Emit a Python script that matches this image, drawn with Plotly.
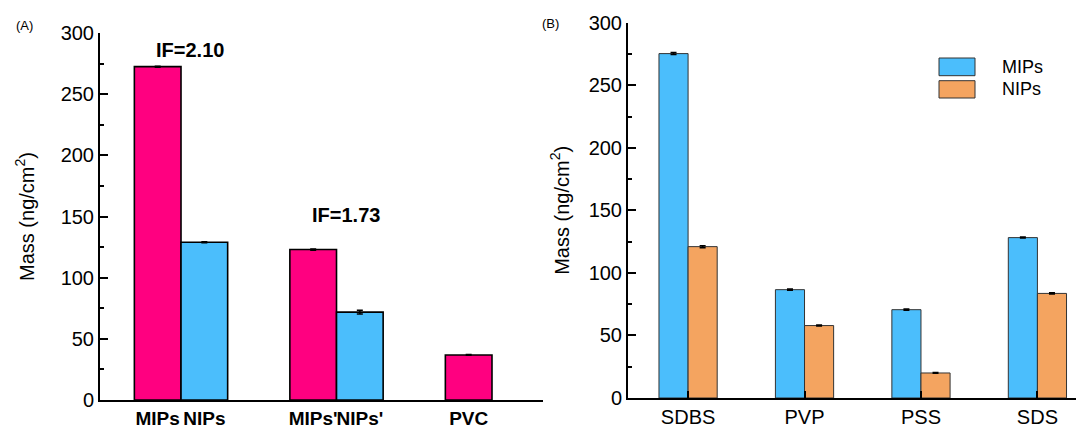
import plotly.graph_objects as go

# ---------- data ----------
a_groups = [1, 2, 3]
a_mips = [272.5, 123.0, 36.8]
a_mips_err = [0.4, 0.5, 0.3]
a_nips = [129.0, 71.8]
a_nips_err = [0.4, 1.5]
a_ticktext = ["MIPs", "NIPs", "MIPs'", "NIPs'", "PVC"]
a_if_text = ["IF=2.10", "IF=1.73"]
a_if_y = [286, 151]

b_cats = ["SDBS", "PVP", "PSS", "SDS"]
b_groups = [1, 2, 3, 4]
b_mips = [275.3, 86.6, 70.6, 128.2]
b_mips_err = [0.8, 0.5, 0.5, 0.4]
b_nips = [121.0, 57.9, 20.0, 83.6]
b_nips_err = [0.8, 0.4, 0.3, 0.5]
legend_names = ["MIPs", "NIPs"]

PINK = "#FF0080"
BLUE = "#4BBEFC"
ORANGE = "#F4A460"
FONT = "Liberation Sans, Arial, sans-serif"

# page body has an 8px margin: the figure is drawn at (8, 8)
OFF = 8
W, H = 1084 - OFF, 426 - OFF
def px(x):
    return (x - OFF) / W
def py(y):
    return (H - (y - OFF)) / H

fig = go.Figure()

aw = 0.3
fig.add_trace(go.Bar(
    x=a_groups, y=a_mips, width=aw, offset=-aw, marker=dict(color=PINK, line=dict(color="black", width=1.6)),
    error_y=dict(type="data", array=a_mips_err, color="black", thickness=1.5, width=3),
    xaxis="x", yaxis="y", showlegend=False))
fig.add_trace(go.Bar(
    x=a_groups[:2], y=a_nips, width=aw, offset=0, marker=dict(color=BLUE, line=dict(color="black", width=1.6)),
    error_y=dict(type="data", array=a_nips_err, color="black", thickness=1.5, width=3),
    xaxis="x", yaxis="y", showlegend=False))

bw = 0.25
fig.add_trace(go.Bar(
    x=b_groups, y=b_mips, width=bw, offset=-bw, name=legend_names[0],
    marker=dict(color=BLUE, line=dict(color="#333333", width=1)),
    error_y=dict(type="data", array=b_mips_err, color="black", thickness=1.5, width=3),
    xaxis="x2", yaxis="y2", showlegend=False))
fig.add_trace(go.Bar(
    x=b_groups, y=b_nips, width=bw, offset=0, name=legend_names[1],
    marker=dict(color=ORANGE, line=dict(color="#333333", width=1)),
    error_y=dict(type="data", array=b_nips_err, color="black", thickness=1.5, width=3),
    xaxis="x2", yaxis="y2", showlegend=False))

# tick positions for A: bar centres
a_tickvals = []
for g in a_groups:
    a_tickvals.append(g - aw / 2)
    if g <= len(a_nips):
        a_tickvals.append(g + aw / 2)

tickfont = dict(family=FONT, size=20, color="black")
def yax(standoff):
    return dict(
        range=[0, 300], dtick=50, showline=True, linecolor="black", linewidth=2,
        ticks="inside", ticklen=8, tickwidth=2, tickcolor="black",
        minor=dict(ticks="inside", ticklen=4, tickwidth=2, tickcolor="black", dtick=25),
        showgrid=False, zeroline=False, tickfont=tickfont, automargin=False,
        title=dict(text="Mass (ng/cm<sup>2</sup>)", font=dict(family=FONT, size=20, color="black"),
                   standoff=standoff),
    )

fig.update_layout(
    width=W, height=H, margin=dict(l=0, r=0, t=0, b=0),
    paper_bgcolor="white", plot_bgcolor="white", barmode="overlay",
    font=dict(family=FONT, color="black"),
    xaxis=dict(domain=[px(100), px(543)], range=[0.479, 3.328], anchor="y",
               tickvals=a_tickvals, ticktext=a_ticktext, ticks="", tickangle=0, automargin=False,
               tickfont=dict(family=FONT, size=19, color="black", weight="bold"),
               showline=True, linecolor="black", linewidth=2, showgrid=False, zeroline=False),
    yaxis=dict(domain=[py(400), py(33)], anchor="x", **yax(21)),
    xaxis2=dict(domain=[px(628), 1.0], range=[0.484, 4.4], anchor="y2",
                tickvals=b_groups, ticktext=b_cats, ticks="inside", ticklen=7, tickwidth=2, tickcolor="black",
                tickfont=tickfont, tickangle=0, automargin=False,
                showline=True, linecolor="black", linewidth=2, showgrid=False, zeroline=False),
    yaxis2=dict(domain=[py(398), py(22.7)], anchor="x2", **yax(14)),
)

annos = []
for g, t, yv in zip(a_groups, a_if_text, a_if_y):
    annos.append(dict(x=g + 0.06, y=yv, xref="x", yref="y", text=t, showarrow=False,
                      xanchor="center", yanchor="middle",
                      font=dict(family=FONT, size=20, color="black", weight="bold")))
annos.append(dict(x=px(24), y=py(25), xref="paper", yref="paper", text="(A)", showarrow=False,
                  xanchor="center", yanchor="middle", font=dict(family=FONT, size=13, color="black")))
annos.append(dict(x=px(550), y=py(24), xref="paper", yref="paper", text="(B)", showarrow=False,
                  xanchor="center", yanchor="middle", font=dict(family=FONT, size=13, color="black")))

# custom legend (large swatches)
shapes = []
sw_rows = [(58, 75.7), (80.7, 98)]
for name, col, (t, b) in zip(legend_names, [BLUE, ORANGE], sw_rows):
    shapes.append(dict(type="rect", xref="paper", yref="paper", x0=px(939), x1=px(975), y0=py(b), y1=py(t),
                       fillcolor=col, line=dict(color="#333333", width=1)))
    annos.append(dict(x=px(1000), y=py((t + b) / 2), xref="paper", yref="paper", text=name, showarrow=False,
                      xanchor="left", yanchor="middle", font=dict(family=FONT, size=18, color="black")))

fig.update_layout(annotations=annos, shapes=shapes)
fig.write_html("out.html")
